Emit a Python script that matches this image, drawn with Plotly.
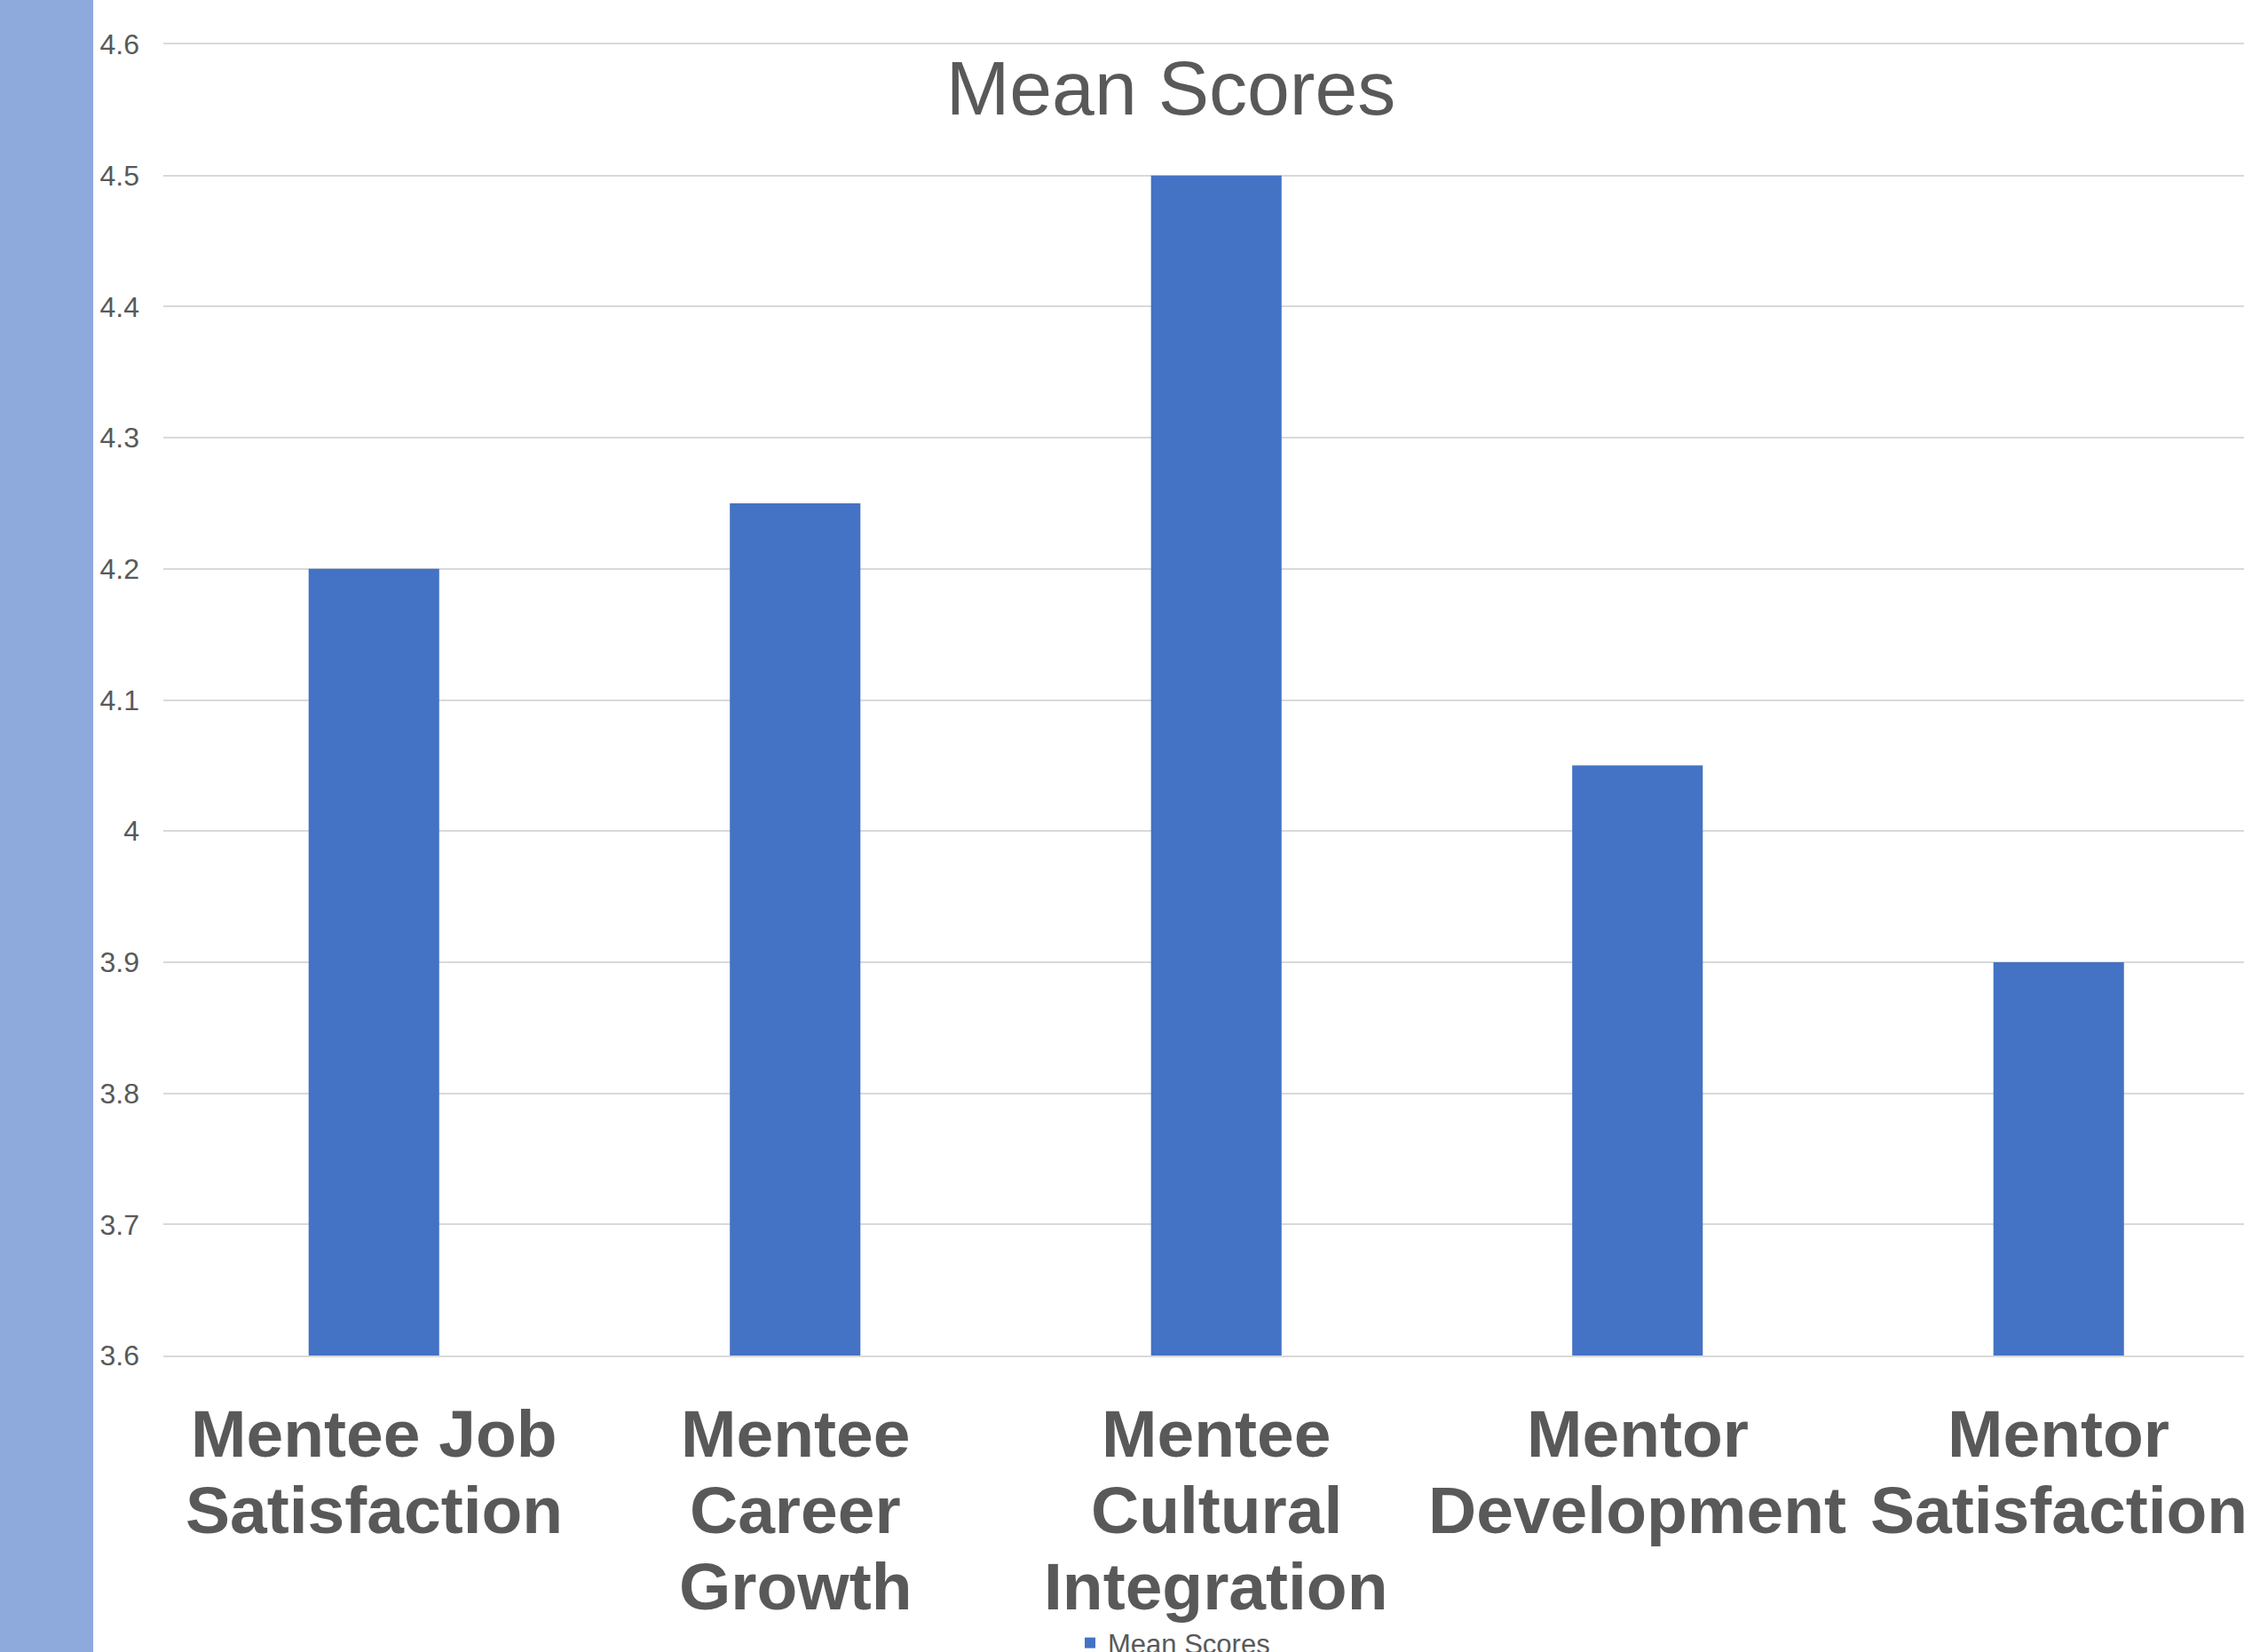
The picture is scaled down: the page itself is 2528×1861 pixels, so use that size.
import plotly.graph_objects as go

categories = ["Mentee Job<br>Satisfaction", "Mentee<br>Career<br>Growth",
              "Mentee<br>Cultural<br>Integration", "Mentor<br>Development",
              "Mentor<br>Satisfaction"]
mean_scores = [4.2, 4.25, 4.5, 4.05, 3.9]
series_name = "Mean Scores"

W, H = 2528, 1861
ML, MR, MT, MB = 184, 0, 50, 334
PW = W - ML - MR
PH = H - MT - MB

TEXT = "#595959"
FONT = "Liberation Sans, Arial, sans-serif"

fig = go.Figure()
fig.add_trace(go.Bar(x=list(range(len(categories))), y=mean_scores, name=series_name,
                     marker=dict(color="#4472C4", line=dict(width=0)),
                     showlegend=True))

# category labels, one text line per annotation (tighter line spacing than ticktext)
annotations = []
for i, label in enumerate(categories):
    for k, line in enumerate(label.split("<br>")):
        annotations.append(dict(
            x=i, xref="x", y=0, yref="paper", yanchor="middle", xanchor="center",
            yshift=-(88 + 86 * k), text=line, showarrow=False,
            font=dict(size=75, color=TEXT, family=FONT, weight="bold")))

fig.update_layout(
    width=W, height=H,
    margin=dict(l=ML, r=MR, t=MT, b=MB, autoexpand=False),
    paper_bgcolor="white", plot_bgcolor="white",
    bargap=0.69,
    font=dict(family=FONT, color=TEXT),
    title=dict(text="Mean Scores", font=dict(size=86, color=TEXT, family=FONT),
               x=1319 / W, xref="container", xanchor="center",
               y=1 - 69 / H, yref="container", yanchor="top"),
    xaxis=dict(
        tickmode="array", tickvals=list(range(len(categories))),
        range=[-0.5, 4.44], showgrid=False, zeroline=False,
        showline=True, mirror=True, linecolor="#D9D9D9", linewidth=2,
        ticks="", showticklabels=False, automargin=False,
    ),
    yaxis=dict(
        range=[3.6, 4.6], dtick=0.1, tick0=3.6, showgrid=True,
        gridcolor="#D9D9D9", gridwidth=2, zeroline=False, showline=False,
        ticks="", tickfont=dict(size=32, color=TEXT, family=FONT),
        automargin=False, ticklabelstandoff=26,
    ),
    legend=dict(orientation="h", x=(1322 - ML) / PW, xanchor="center",
                y=37 / H, yref="container", yanchor="top",
                font=dict(size=31, color=TEXT, family=FONT),
                bgcolor="rgba(0,0,0,0)"),
    annotations=annotations,
    shapes=[dict(type="rect", xref="paper", yref="paper",
                 x0=-ML / PW - 0.01, x1=(105 - ML) / PW,
                 y0=-MB / PH - 0.05, y1=1 + MT / PH + 0.05,
                 fillcolor="#8EA9DB", line=dict(width=0), layer="below")],
)

fig.write_html("out.html")
